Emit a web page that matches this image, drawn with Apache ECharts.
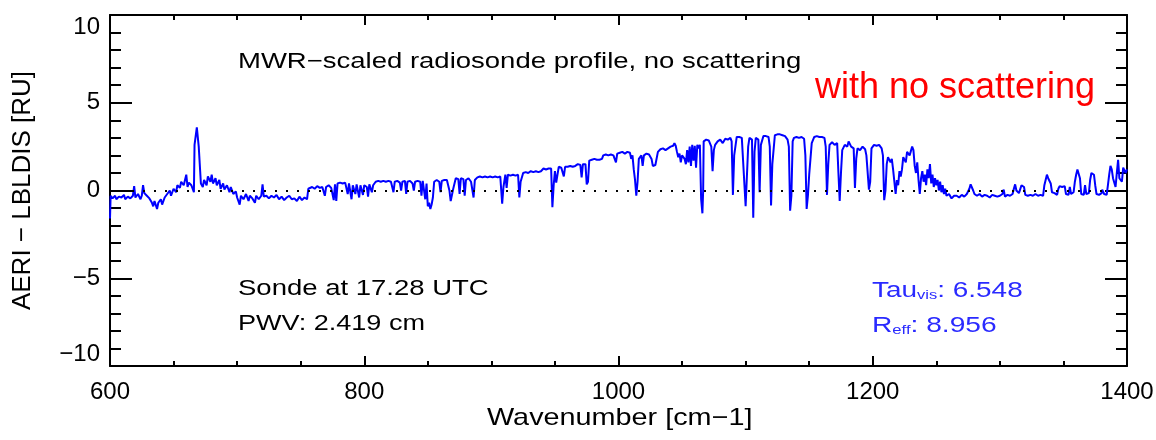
<!DOCTYPE html>
<html><head><meta charset="utf-8">
<script src="https://cdn.jsdelivr.net/npm/echarts@6/dist/echarts.min.js"></script>
<style>html,body{margin:0;padding:0;background:#fff}#c{width:1156px;height:440px}</style>
</head><body><div id="c"></div>
<script>
// Axis settings
const xRange = [600, 1400];
const xTickStep = 200;
const yRange = [-10, 10];
const yTickStep = 5;

// AERI - LBLDIS residual [RU] vs wavenumber [cm-1], by spectral band
const band600 = [[600,-1.6],[600.5,-0.3],[602,-0.45],[604,-0.3],[605,-0.5],[607,-0.35],[609,-0.4],[611,-0.25],[612,-0.5],[614,-0.35],[616,-0.45],[618,-0.3],[619,0.25],[620,-0.4],[622,-0.2],[624,-0.5],[625,-0.3],[626,0.3],[627,-0.15],[629,-0.3],[631,-0.45],[633,-0.7],[634,-0.9],[635,-0.6],[637,-1.05],[638,-0.7],[640,-0.5],[641,-0.8],[643,-0.4],[645,-0.2],[647,0.0],[648,-0.3],[650,0.1],[652,-0.1],[653,0.3],[655,0.15],[656,0.5],[658,0.3],[659,0.6],[660,0.9],[661,0.2],[662,0.45],[664,0.3],[665,0.1],[666,-0.1],[666.5,2.6],[668,2.6],[668.3,3.6],[669.5,3.6],[669.8,2.5],[671,2.5],[671.5,0.4],[673,0.2],[674,0.6],[676,0.3],[677,0.8],[679,0.5],[680,0.9],[681,0.4],[683,0.7],[684,0.3],[686,0.6],[687,0.1],[689,0.4],[690,0.05],[692,0.3],[694,-0.1],[695,0.2],[697,-0.2],[699,-0.05],[700,-0.4],[702,-0.8],[703,-0.3],[705,-0.5],[707,-0.2],[709,-0.6],[710,-0.3],[712,-0.45],[714,-0.7],[715,-0.3],[717,-0.5],[719,-0.3],[720,0.35],[721,-0.35],[723,-0.3],[725,-0.45],[727,-0.3],[729,-0.4],[731,-0.25]];
const band730 = [[733,-0.5],[735,-0.35],[737,-0.55],[739,-0.4],[741,-0.3],[743,-0.5],[745,-0.45],[747,-0.6],[749,-0.35],[751,-0.55],[753,-0.4],[755,-0.5],[756,0.1],[757,0.15],[759,0.2],[761,0.1],[763,0.25],[765,0.15],[767,0.2],[769,-0.3],[770,0.2],[772,0.3],[774,0.15],[776,-0.55],[777,0.35],[778,-0.6],[779,0.4],[781,0.45],[783,0.4],[785,0.45],[787,-0.2],[788,0.4],[790,-0.5],[791,0.3],[793,-0.2],[794,0.35],[796,-0.4],[797,0.3],[799,-0.25],[800,0.3],[802,0.2],[803,-0.35],[804,0.35],[806,-0.1],[807,0.3],[809,0.5],[811,0.55],[813,0.5],[815,0.55],[817,0.5],[819,0.55],[821,0.5],[823,-0.1],[824,0.5],[826,0.55],[828,0.45],[829,0.0],[830,0.5],[832,0.55],[833,-0.2],[834,0.5],[836,0.55],[838,0.4],[839,0.0],[840,0.5],[842,0.55],[844,0.5],[845,-0.3],[846,0.55],[848,-0.5],[849,0.4],[850,-0.9],[851,-0.7],[852,-1.05],[853,-0.8],[854,-0.4],[855,0.5],[857,0.6],[859,0.5],[860,-0.1],[861,0.55],[863,0.6],[865,0.6]];
const band866 = [[866,0.55],[867,0.0],[868,-0.6],[869,-0.5],[870,0.1],[872,0.7],[874,0.65],[875,-0.2],[876,0.7],[878,0.65],[879,-0.3],[880,0.6],[882,0.7],[884,0.5],[886,-0.4],[887,0.6],[889,0.75],[891,0.8],[893,0.75],[895,0.8],[897,0.75],[899,0.8],[901,0.75],[903,0.8],[905,0.75],[907,0.8],[908.5,-0.75],[909.5,0.2],[911,0.9],[912,0.15],[913,0.9],[915,0.85],[917,0.9],[919,0.85],[921,0.9],[922,-0.4],[923,0.5],[925,1.0],[927,1.05],[929,1.0],[931,1.1],[933,1.05],[935,1.1],[937,1.05],[939,1.1],[941,1.25],[943,1.2],[945,1.25],[947,1.25],[948,-0.95],[949,0.3],[950,1.1],[951,0.45],[953,1.35],[955,1.3],[957,0.8],[958,1.35],[960,1.35],[962,1.4],[964,1.35],[966,1.4],[968,1.5],[970,1.45],[971,0.75],[972,1.5],[974,1.5],[975,0.35],[976,0.5],[977,1.7],[979,1.75],[981,1.8],[983,1.75],[985,1.75],[987,1.8],[988,2.0],[990,2.05],[992,2.0],[994,2.05],[996,2.0],[998,1.6],[999,2.1]];
const band1000 = [[1001,2.15],[1003,2.2],[1005,2.1],[1007,2.2],[1009,2.15],[1010,1.8],[1011,2.0],[1012,1.2],[1013,0.6],[1014,-0.3],[1015,0.5],[1016,1.8],[1018,2.0],[1019,1.4],[1020,2.0],[1022,2.1],[1024,2.05],[1026,1.8],[1027,1.4],[1029,1.45],[1030,1.4],[1031,2.2],[1033,2.35],[1035,2.4],[1037,2.3],[1039,2.4],[1041,2.5],[1043,2.55],[1044,2.7],[1045,2.55],[1046,2.2],[1047,1.9],[1048,2.1],[1049,1.6],[1050,2.0],[1052,1.8],[1053,1.5],[1054,2.3],[1055,1.6],[1056,2.5],[1057,1.4],[1058,2.6],[1059,1.7],[1060,2.55],[1061,1.3],[1062,2.6],[1063,2.4],[1064,2.6],[1065,-0.5],[1066,-1.3],[1066.6,0.0],[1067,2.8],[1069,2.9],[1071,2.85],[1072,2.9],[1073,2.5],[1074,1.1],[1075,2.3],[1076,2.6],[1078,2.8],[1080,2.9],[1082,2.7],[1084,2.95],[1086,2.9],[1088,3.0],[1089,2.8],[1090,-0.25],[1091,2.0],[1093,3.05],[1095,3.05],[1097,3.0],[1098,2.9],[1100,-0.9],[1101,-1.0],[1102,2.5],[1103,3.0],[1105,2.9],[1106,-1.55],[1107,2.2],[1108,3.0],[1110,2.9],[1111,-0.1],[1112,2.6],[1114,3.1],[1116,3.1],[1118,3.05],[1119,2.5],[1120,-0.85],[1121,1.5],[1123,3.15],[1125,3.2],[1127,3.2],[1129,3.15],[1131,3.1],[1133,2.9],[1134,2.5],[1135,-1.15],[1136,-0.3],[1137,2.8]];
const band1138 = [[1138,3.0],[1140,3.05],[1142,3.0],[1144,3.05],[1146,2.95],[1147,2.0],[1148,-1.05],[1149,-0.3],[1150,0.9],[1151,1.0],[1152,2.7],[1154,3.05],[1156,3.1],[1158,3.05],[1160,3.05],[1162,3.0],[1163,2.5],[1164,-0.25],[1165,1.5],[1166,2.6],[1168,2.75],[1170,2.6],[1172,2.7],[1173,1.0],[1174,-0.6],[1175,1.0],[1176,2.3],[1178,2.6],[1180,2.5],[1181,2.8],[1183,2.5],[1185,2.4],[1186,0.15],[1187,1.8],[1188,2.4],[1190,2.3],[1192,2.5],[1194,2.35],[1195,2.0],[1197,0.05],[1198,0.5],[1199,2.4],[1201,2.6],[1203,2.55],[1205,2.6],[1207,2.4],[1208,2.0],[1209,-0.55],[1210,0.0],[1211,1.5],[1212,1.9],[1214,1.6],[1215,1.8],[1216,1.2],[1217,0.5],[1218,-0.2],[1219,0.6],[1220,0.3],[1221,1.1],[1222,0.8],[1223,1.2],[1224,1.9],[1226,1.6],[1227,2.2],[1229,2.0],[1231,2.5],[1232,2.3],[1233,1.4],[1234,1.0],[1235,1.6],[1236,0.6],[1237,-0.2],[1238,0.7],[1239,1.1],[1240,0.5],[1241,0.9],[1242,0.3],[1243,1.2],[1244,0.7],[1245,1.5],[1246,0.4],[1247,0.9],[1248,0.2],[1249,0.7],[1250,0.3],[1251,0.6],[1252,0.0],[1253,0.5],[1254,-0.1],[1255,0.3],[1256,-0.2],[1257,0.1],[1258,-0.3],[1260,-0.2],[1262,-0.45],[1264,-0.3]];
const band1265 = [[1266,-0.3],[1268,-0.4],[1270,-0.25],[1272,-0.35],[1274,-0.2],[1276,0.1],[1277,0.35],[1278,0.3],[1279,0.0],[1280,-0.2],[1282,-0.3],[1284,-0.2],[1286,-0.35],[1288,-0.25],[1290,-0.3],[1292,-0.4],[1294,-0.25],[1296,-0.3],[1298,-0.35],[1300,-0.3],[1302,-0.2],[1303,0.05],[1304,-0.35],[1306,-0.25],[1308,-0.3],[1310,-0.2],[1311,0.1],[1312,0.35],[1313,0.0],[1315,-0.15],[1317,0.3],[1318,0.35],[1319,0.2],[1320,-0.25],[1322,-0.3],[1324,-0.25],[1326,-0.3],[1328,-0.2],[1330,-0.3],[1332,-0.25],[1334,-0.3],[1335,0.3],[1336,0.6],[1337,0.9],[1338,0.7],[1339,0.8],[1340,0.4],[1341,-0.1],[1343,-0.15],[1345,-0.25],[1346,0.1],[1347,0.25],[1349,0.2],[1351,0.25],[1352,-0.2],[1354,-0.25],[1355,0.2],[1356,-0.2],[1358,-0.1],[1359,0.5],[1360,0.9],[1361,1.2],[1362,1.3],[1363,0.7],[1364,-0.2],[1366,-0.25],[1367,0.3],[1368,-0.2],[1370,-0.15],[1371,0.6],[1372,1.0],[1373,1.1],[1374,0.9],[1375,0.3],[1376,-0.2],[1378,-0.25],[1380,-0.15],[1380.5,0.05],[1382,-0.2],[1384,-0.25],[1385,0.3],[1386,0.9],[1387,1.4],[1388,1.2],[1389,0.7],[1390,0.6],[1391,0.2],[1392,1.0],[1393,1.75],[1394,0.7],[1395,0.8],[1396,0.5],[1397,1.3],[1398,1.4],[1399,1.0],[1400,1.2]];

const spectrum = [].concat(band600, band730, band866, band1000, band1138, band1265);

const FONT = '"Liberation Sans", Arial, sans-serif';
const black = '#000';
const blueText = '#2a2aff';

function xAxisDef(pos, showLabel) {
  return {
    type: 'value', position: pos, min: xRange[0], max: xRange[1], interval: xTickStep,
    axisLine: { show: true, onZero: false, lineStyle: { color: black, width: 2 } },
    axisTick: { show: true, inside: true, length: 10, lineStyle: { color: black, width: 2 } },
    minorTick: { show: true, splitNumber: 4, length: 5, lineStyle: { color: black, width: 2 } },
    splitLine: { show: false },
    axisLabel: { show: showLabel, fontSize: 24, color: black, fontFamily: FONT, margin: 14,
      formatter: v => String(v) }
  };
}
function yAxisDef(pos, showLabel) {
  return {
    type: 'value', position: pos, min: yRange[0], max: yRange[1], interval: yTickStep,
    axisLine: { show: true, onZero: false, lineStyle: { color: black, width: 2 } },
    axisTick: { show: true, inside: true, length: 22, lineStyle: { color: black, width: 2 } },
    minorTick: { show: true, splitNumber: 5, length: 11, lineStyle: { color: black, width: 2 } },
    splitLine: { show: false },
    axisLabel: { show: showLabel, fontSize: 24, color: black, fontFamily: FONT, margin: 10,
      formatter: v => String(v).replace('-', '\u2212'),
      verticalAlignMaxLabel: 'top', verticalAlignMinLabel: 'bottom' },
    name: showLabel ? 'AERI \u2212 LBLDIS [RU]' : '',
    nameLocation: 'middle', nameGap: 74, nameRotate: 90,
    nameTextStyle: { fontSize: 26, color: black, fontFamily: FONT }
  };
}

function note(text, x, y, size, color, sx) {
  return { type: 'text', x: x, y: y, scaleX: sx, style: { text: text, font: size + 'px ' + FONT, fill: color, textVerticalAlign: 'middle' } };
}
function subNote(main, sub, value, x, y, sx) {
  return { type: 'text', x: x, y: y, scaleX: sx, style: {
    text: '{a|' + main + '}{s|' + sub + '}{a|' + value + '}', fill: blueText, textVerticalAlign: 'middle',
    rich: { a: { fontSize: 22, fontFamily: FONT, fill: blueText, lineHeight: 28, verticalAlign: 'bottom' },
            s: { fontSize: 13, fontFamily: FONT, fill: blueText, lineHeight: 22, verticalAlign: 'bottom' } } } };
}

const chart = echarts.init(document.getElementById('c'), null, { renderer: 'canvas' });
chart.setOption({
  animation: false,
  backgroundColor: '#fff',
  grid: { left: 110, right: 29, top: 15, bottom: 74, containLabel: false, outerBoundsMode: 'none' },
  xAxis: [xAxisDef('bottom', true), xAxisDef('top', false)],
  yAxis: [yAxisDef('left', true), yAxisDef('right', false)],
  series: [{
    type: 'line', data: spectrum, showSymbol: false, symbol: 'none',
    lineStyle: { color: '#0000ff', width: 2 }, clip: true,
    markLine: {
      silent: true, symbol: 'none', label: { show: false },
      lineStyle: { color: black, type: [2, 9], width: 2 },
      data: [{ yAxis: 0 }]
    }
  }],
  graphic: [
    note('MWR\u2212scaled radiosonde profile, no scattering', 238, 62, 22, black, 1.25),
    note('with no scattering', 815, 88, 36, '#ff0000', 1),
    note('Sonde at 17.28 UTC', 238, 289, 22, black, 1.25),
    note('PWV: 2.419 cm', 238, 324, 22, black, 1.23),
    subNote('Tau', 'vis', ': 6.548', 872, 288, 1.27),
    subNote('R', 'eff', ': 8.956', 872, 323, 1.28),
    note('Wavenumber [cm\u22121]', 487, 418, 24, black, 1.2)
  ]
});
</script>
</body></html>
